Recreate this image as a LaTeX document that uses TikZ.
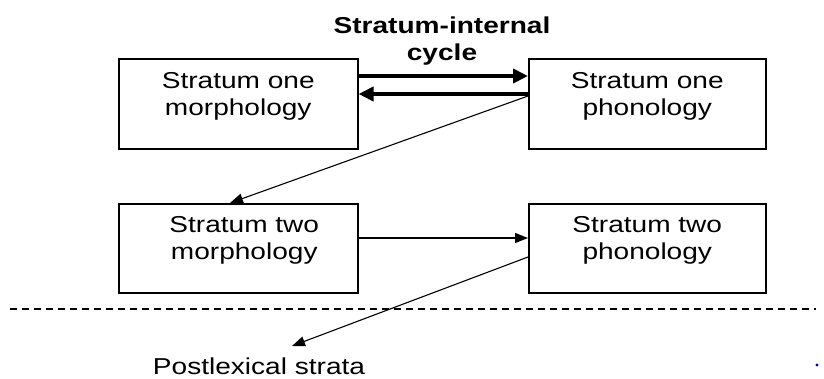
\documentclass[tikz,border=0pt]{standalone}
\usepackage{fontspec}
\setmainfont{Liberation Sans}
\usetikzlibrary{arrows.meta,positioning}
\newcommand{\stretchtxt}[1]{\scalebox{1.22}[1]{\fontsize{23}{27}\selectfont\begin{tabular}{@{}c@{}}#1\end{tabular}}}
\begin{document}
\begin{tikzpicture}[x=1pt,y=-1pt,
  stratbox/.style={draw,line width=1.5pt,minimum width=239pt,minimum height=90pt,inner sep=0pt,anchor=north west},
  boxtext/.style={inner sep=0pt,anchor=north},
  thickarr/.style={line width=4pt,-{Triangle[length=15pt,width=14pt]}},
  thinarr/.style={line width=1.1pt,-{Triangle[length=13pt,width=10pt]}}]
\useasboundingbox (0,0) rectangle (824,378);
\node[stratbox] (b1) at (118,58) {};
\node[stratbox,minimum width=237pt] (b2) at (528,58) {};
\node[stratbox,minimum height=89pt] (b3) at (118,203) {};
\node[stratbox,minimum width=237pt,minimum height=89pt] (b4) at (528,203) {};
\node[boxtext,below=11pt of b1.north] (t1) {\stretchtxt{Stratum one\\morphology}};
\node[boxtext,below=11pt of b2.north] (t2) {\stretchtxt{Stratum one\\phonology}};
\node[boxtext,below=10pt of b3.north,xshift=6pt] (t3) {\stretchtxt{Stratum two\\morphology}};
\node[boxtext,below=10pt of b4.north] (t4) {\stretchtxt{Stratum two\\phonology}};
\node[boxtext] (title) at (442,14) {\stretchtxt{\bfseries Stratum-internal\\\bfseries cycle}};
\node[inner sep=0pt,anchor=base] (post) at (259,374) {\scalebox{1.22}[1]{\fontsize{23}{27}\selectfont Postlexical strata}};
\coordinate (d1) at (230,203);
\coordinate (d2) at (292,346);
\draw[thickarr] (b1.east |- 0,76) -- (b2.west |- 0,76);
\draw[thickarr] (b2.west |- 0,94) -- (b1.east |- 0,94);
\draw[thinarr] (b2.west |- 0,96) -- (d1);
\draw[thinarr] (b3.east |- 0,238) -- (b4.west |- 0,238);
\draw[thinarr] (b4.west |- 0,257) -- (d2);
\coordinate (dl) at (10,309);
\coordinate (dr) at (816,309);
\draw[line width=1.2pt,dash pattern=on 7pt off 5pt] (dl) -- (dr);
\fill[blue!70!black] (817,365) circle (1.6pt);
\end{tikzpicture}
\end{document}
